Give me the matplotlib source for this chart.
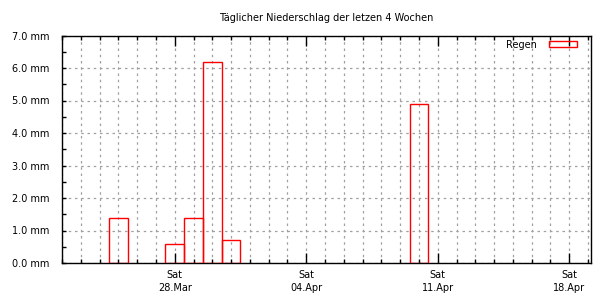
import datetime as dt
import matplotlib
matplotlib.use("Agg")
import matplotlib.pyplot as plt
import matplotlib.dates as mdates
from matplotlib.patches import Rectangle
from matplotlib.ticker import MultipleLocator, FuncFormatter

# daily rain totals (mm)
days = ["2020-03-25", "2020-03-28", "2020-03-29", "2020-03-30", "2020-03-31", "2020-04-10"]
rain = [1.4, 0.6, 1.4, 6.2, 0.7, 4.9]
title = "Täglicher Niederschlag der letzen 4 Wochen"
series_name = "Regen"

dates = [dt.datetime.strptime(d, "%Y-%m-%d") for d in days]
x = mdates.date2num(dates)

plt.rcParams['font.family'] = ['DejaVu Sans']
fig = plt.figure(figsize=(6.1, 3.0), dpi=100)
ax = fig.add_axes([62/610, 37/300, 528.5/610, 227.5/300])

ax.bar(x, rain, width=1.0, align='center', fill=False, edgecolor='#ff0000', linewidth=1.0, zorder=3)

start = mdates.date2num(dt.datetime(2020, 3, 22))
ax.set_xlim(start, start + 28.13)
ax.set_ylim(0, 7.0)

ax.xaxis.set_major_locator(mdates.WeekdayLocator(byweekday=mdates.SA))
ax.xaxis.set_minor_locator(mdates.DayLocator())
ax.xaxis.set_major_formatter(mdates.DateFormatter("%a\n%d.%b"))
ax.yaxis.set_major_locator(MultipleLocator(1.0))
ax.yaxis.set_minor_locator(MultipleLocator(0.5))
ax.yaxis.set_major_formatter(FuncFormatter(lambda v, p: "%.1f mm" % v))

ax.tick_params(axis='both', which='both', direction='in', labelsize=7, width=1, colors='black')
ax.tick_params(axis='x', which='both', top=True)
ax.tick_params(axis='x', which='major', length=7, pad=5)
ax.tick_params(axis='x', which='minor', length=3)
ax.tick_params(axis='y', which='major', length=3, pad=9)
ax.tick_params(axis='y', which='minor', length=3)
for lab in ax.get_xticklabels():
    lab.set_linespacing(1.35)

grid_kw = dict(color='#a0a0a0', linestyle=(0, (2, 3)), linewidth=0.9)
ax.grid(True, axis='x', which='both', **grid_kw)
ax.grid(True, axis='y', which='major', **grid_kw)
ax.set_axisbelow(True)
for s in ax.spines.values():
    s.set_linewidth(1.0)

handle = Rectangle((0, 0), 1, 1, fill=False, edgecolor='#ff0000', linewidth=1.0)
ax.legend([handle], [series_name], loc='upper right', bbox_to_anchor=(0.974, 0.981),
          frameon=False, fontsize=7, markerfirst=False, handlelength=2.9, handleheight=0.55,
          borderaxespad=0, borderpad=0, handletextpad=1.2)

fig.text(0.535, 1 - 18/300, title, ha='center', va='center', fontsize=7)

fig.savefig("out.png", dpi=100)
